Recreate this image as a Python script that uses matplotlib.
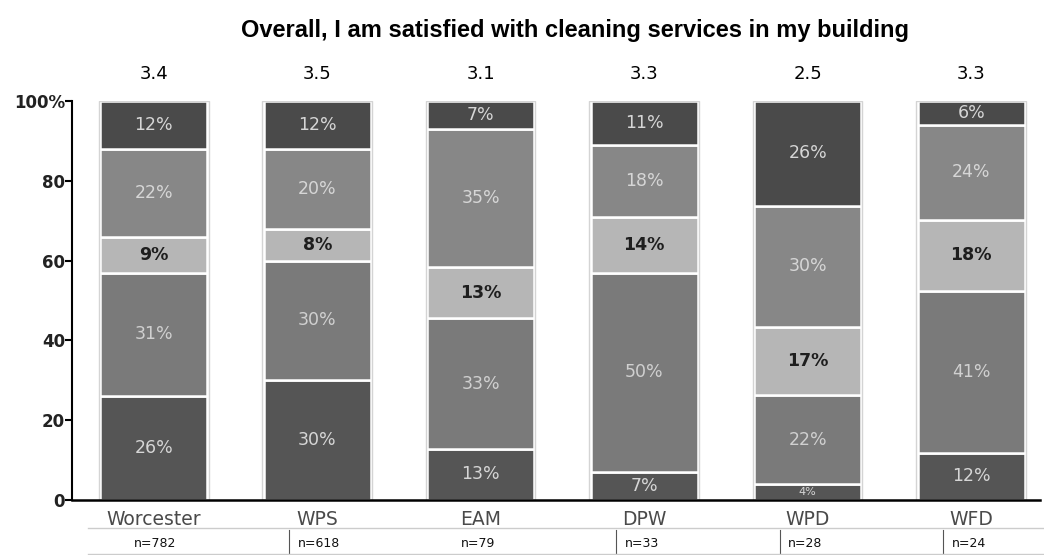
import numpy as np
import matplotlib.pyplot as plt
from matplotlib.transforms import blended_transform_factory

# Data (bottom segment first)
groups = ['Worcester', 'WPS', 'EAM', 'DPW', 'WPD', 'WFD']
n_counts = [782, 618, 79, 33, 28, 24]
means = ['3.4', '3.5', '3.1', '3.3', '2.5', '3.3']
seg1 = [26, 30, 13, 7, 4, 12]
seg2 = [31, 30, 33, 50, 22, 41]
seg3 = [9, 8, 13, 14, 17, 18]
seg4 = [22, 20, 35, 18, 30, 24]
seg5 = [12, 12, 7, 11, 26, 6]

segments = [seg1, seg2, seg3, seg4, seg5]
colors = ['#555555', '#7a7a7a', '#b6b6b6', '#878787', '#4a4a4a']
text_colors = ['#d6d6d6', '#d0d0d0', '#1e1e1e', '#d6d6d6', '#d6d6d6']

# the chart stacks each bar to a full 100%
totals = np.sum(np.array(segments, dtype=float), axis=0)

fig = plt.figure(figsize=(10.44, 5.55), dpi=100)
ax = fig.add_axes([0.069, 0.099, 0.927, 0.719])

x = np.arange(len(groups))
bottom = np.zeros(len(groups))
for k, seg in enumerate(segments):
    vals = np.array(seg, dtype=float)
    h = vals / totals * 100
    ax.bar(x, h, bottom=bottom, width=0.655, color=colors[k],
           edgecolor='white', linewidth=1.8)
    for i, v in enumerate(vals):
        fs = 8 if v < 5 else 12.5
        w = 'bold' if k == 2 else 'normal'
        ax.text(x[i], bottom[i] + h[i] / 2, f'{int(v)}%', ha='center', va='center',
                color=text_colors[k], fontsize=fs, fontweight=w)
    bottom += h

# light outline around each bar
ax.bar(x, bottom, width=0.67, fill=False, edgecolor='#d4d4d4', linewidth=1.0)

ax.set_xlim(-0.5, 5.42)
ax.set_ylim(0, 100)
ax.set_yticks([0, 20, 40, 60, 80, 100])
ax.set_yticklabels(['0', '20', '40', '60', '80', '100%'], fontsize=12,
                   fontweight='bold', color='#222222')
ax.set_xticks([])
for s in ['top', 'right']:
    ax.spines[s].set_visible(False)
ax.spines['left'].set_linewidth(1.5)
ax.spines['bottom'].set_linewidth(1.8)
ax.tick_params(axis='y', length=5, width=1.5, pad=0)

trans = blended_transform_factory(ax.transData, ax.transAxes)

# mean scores above bars
for i, m in enumerate(means):
    ax.text(x[i], 1.068, m, transform=trans, ha='center', va='center', fontsize=13)

# category names and n table
for i, g in enumerate(groups):
    ax.text(x[i], -0.048, g, transform=trans, ha='center', va='center',
            fontsize=13.5, color='#4a4a4a')
    ax.text(x[i] - 0.12, -0.108, f'n={n_counts[i]}', transform=trans, ha='left',
            va='center', fontsize=9, color='#111111')
    if i in (1, 3, 4, 5):
        ax.plot([x[i] - 0.17, x[i] - 0.17], [-0.075, -0.135], transform=trans,
                color='#555555', linewidth=0.8, clip_on=False)

ax.plot([-0.4, 5.45], [-0.07, -0.07], transform=trans, color='#cccccc',
        linewidth=1.0, clip_on=False)
ax.plot([-0.4, 5.45], [-0.135, -0.135], transform=trans, color='#cccccc',
        linewidth=1.0, clip_on=False)

fig.text(0.551, 0.945, 'Overall, I am satisfied with cleaning services in my building',
         ha='center', va='center', fontsize=17, fontweight='bold',
         family='Liberation Sans')

fig.savefig('out.png', dpi=100)
